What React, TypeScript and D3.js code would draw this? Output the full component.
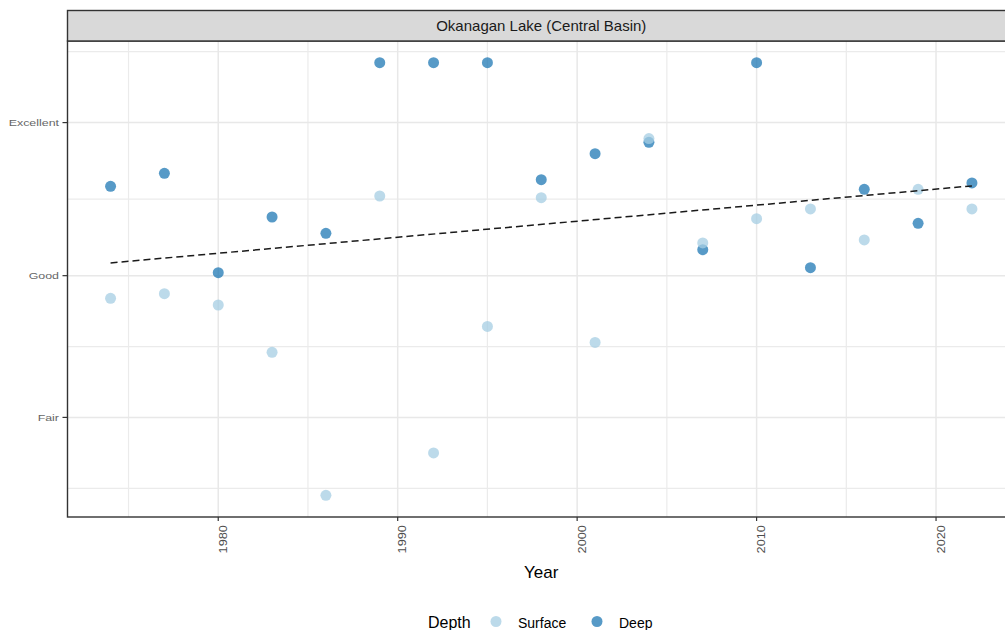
import React, { useEffect, useRef } from 'react'
import * as d3 from 'd3'

// sampling years (both depths sampled the same years)
const years = [1974, 1977, 1980, 1983, 1986, 1989, 1992, 1995, 1998, 2001, 2004, 2007, 2010, 2013, 2016, 2019, 2022]

// rating score (Fair = 1, Good = 2, Excellent ~ 3.08)
const surfaceScore = [1.84, 1.873, 1.793, 1.459, 0.45, 2.562, 0.749, 1.642, 2.55, 1.529, 2.967, 2.231, 2.402, 2.471, 2.252, 2.609, 2.471]
const deepScore = [2.63, 2.722, 2.021, 2.414, 2.299, 3.503, 3.503, 3.503, 2.677, 2.861, 2.941, 2.183, 3.503, 2.056, 2.609, 2.369, 2.654]

const ratingLabels = ['Fair', 'Good', 'Excellent']
const ratingBreaks = [1, 2, 3.08]
const ratingMinor = [0.5, 1.5, 2.54, 3.58]

const yearBreaks = [1980, 1990, 2000, 2010, 2020]
const yearMinor = [1975, 1985, 1995, 2005, 2015]

const depthNames = ['Surface', 'Deep']
const depthColors = ['#a6cee3', '#1f78b4']

const W = 1005
const H = 630

function Chart() {
  const ref = useRef<SVGSVGElement>(null)

  useEffect(() => {
    const svg = d3.select(ref.current)
    svg.selectAll('*').remove()

    const left = 67.5
    const right = 1015
    const top = 41
    const bottom = 517
    const font = 'Liberation Sans, Arial, sans-serif'

    const xExt = d3.extent(years) as [number, number]
    const xPad = (xExt[1] - xExt[0]) * 0.05
    const x = d3.scaleLinear().domain([xExt[0] - xPad, xExt[1] + xPad]).range([left, right])

    const yExt = d3.extent([...surfaceScore, ...deepScore]) as [number, number]
    const yPad = (yExt[1] - yExt[0]) * 0.05
    const y = d3.scaleLinear().domain([yExt[0] - yPad, yExt[1] + yPad]).range([bottom, top])

    // panel background
    svg.append('rect')
      .attr('x', left).attr('y', top)
      .attr('width', right - left).attr('height', bottom - top)
      .attr('fill', '#fff')

    const grid = svg.append('g')
    grid.selectAll('.ymin').data(ratingMinor).join('line')
      .attr('x1', left).attr('x2', right)
      .attr('y1', (d) => y(d)).attr('y2', (d) => y(d))
      .attr('stroke', '#ebebeb').attr('stroke-width', 1.2)
    grid.selectAll('.xmin').data(yearMinor).join('line')
      .attr('x1', (d) => x(d)).attr('x2', (d) => x(d))
      .attr('y1', top).attr('y2', bottom)
      .attr('stroke', '#ebebeb').attr('stroke-width', 1.2)
    grid.selectAll('.ymaj').data(ratingBreaks).join('line')
      .attr('x1', left).attr('x2', right)
      .attr('y1', (d) => y(d)).attr('y2', (d) => y(d))
      .attr('stroke', '#e8e8e8').attr('stroke-width', 1.5)
    grid.selectAll('.xmaj').data(yearBreaks).join('line')
      .attr('x1', (d) => x(d)).attr('x2', (d) => x(d))
      .attr('y1', top).attr('y2', bottom)
      .attr('stroke', '#e8e8e8').attr('stroke-width', 1.5)

    // points: deep first, surface over it
    const series = [deepScore, surfaceScore]
    const seriesColor = [depthColors[1], depthColors[0]]
    series.forEach((vals, k) => {
      svg.append('g').selectAll('circle').data(vals).join('circle')
        .attr('cx', (_d, i) => x(years[i]))
        .attr('cy', (d) => y(d))
        .attr('r', 5.5)
        .attr('fill', seriesColor[k])
        .attr('fill-opacity', 0.75)
    })

    // linear trend over both depths
    const pts = years.flatMap((yr, i) => [[yr, surfaceScore[i]], [yr, deepScore[i]]])
    const mx = d3.mean(pts, (p) => p[0]) as number
    const my = d3.mean(pts, (p) => p[1]) as number
    const slope = d3.sum(pts, (p) => (p[0] - mx) * (p[1] - my)) / d3.sum(pts, (p) => (p[0] - mx) ** 2)
    const fit = (yr: number) => my + slope * (yr - mx)
    svg.append('path')
      .datum(xExt)
      .attr('d', d3.line<number>().x((d) => x(d)).y((d) => y(fit(d))))
      .attr('fill', 'none')
      .attr('stroke', '#1a1a1a')
      .attr('stroke-width', 1.5)
      .attr('stroke-dasharray', '7,4')

    // panel border + strip
    svg.append('rect')
      .attr('x', left).attr('y', top)
      .attr('width', right - left).attr('height', bottom - top)
      .attr('fill', 'none').attr('stroke', '#333').attr('stroke-width', 1.4)
    svg.append('rect')
      .attr('x', left).attr('y', 10.5)
      .attr('width', right - left).attr('height', top - 10.5)
      .attr('fill', '#d9d9d9').attr('stroke', '#333').attr('stroke-width', 1.4)
    svg.append('text')
      .attr('x', (left + right) / 2).attr('y', 31)
      .attr('text-anchor', 'middle')
      .attr('font-family', font).attr('font-size', 15)
      .attr('fill', '#1a1a1a')
      .text('Okanagan Lake (Central Basin)')

    // y axis
    const yAx = svg.append('g')
    yAx.selectAll('line').data(ratingBreaks).join('line')
      .attr('x1', left - 5).attr('x2', left)
      .attr('y1', (d) => y(d)).attr('y2', (d) => y(d))
      .attr('stroke', '#333').attr('stroke-width', 1.2)
    yAx.selectAll('text').data(ratingBreaks).join('text')
      .attr('transform', (d) => `translate(${left - 8.5},${y(d) + 3.2}) scale(1.38,1)`)
      .attr('text-anchor', 'end')
      .attr('font-family', font).attr('font-size', 9)
      .attr('fill', '#666')
      .text((_d, i) => ratingLabels[i])

    // x axis
    const xAx = svg.append('g')
    xAx.selectAll('line').data(yearBreaks).join('line')
      .attr('x1', (d) => x(d)).attr('x2', (d) => x(d))
      .attr('y1', bottom).attr('y2', bottom + 4)
      .attr('stroke', '#333').attr('stroke-width', 1.2)
    xAx.selectAll('text').data(yearBreaks).join('text')
      .attr('transform', (d) => `translate(${x(d) + 8.5},${bottom + 8}) rotate(-90) scale(1.22,1)`)
      .attr('text-anchor', 'end')
      .attr('font-family', font).attr('font-size', 10.5)
      .attr('fill', '#4d4d4d')
      .text((d) => String(d))

    svg.append('text')
      .attr('x', (left + right) / 2).attr('y', 578)
      .attr('text-anchor', 'middle')
      .attr('font-family', font).attr('font-size', 17)
      .attr('fill', '#000')
      .text('Year')

    // legend
    const lg = svg.append('g').attr('font-family', font)
    lg.append('text').attr('x', 428).attr('y', 628).attr('font-size', 16).attr('fill', '#000').text('Depth')
    const keyX = [496, 597]
    depthNames.forEach((name, i) => {
      lg.append('circle')
        .attr('cx', keyX[i]).attr('cy', 621.5).attr('r', 5.5)
        .attr('fill', depthColors[i]).attr('fill-opacity', 0.75)
      lg.append('text')
        .attr('x', keyX[i] + 22).attr('y', 627.5)
        .attr('font-size', 14).attr('fill', '#000')
        .text(name)
    })
  }, [])

  return (
    <svg
      ref={ref}
      width={W}
      height={H}
      style={{ position: 'absolute', left: 0, top: 0, background: '#fff' }}
    />
  )
}

export default function App() {
  return <Chart />
}
